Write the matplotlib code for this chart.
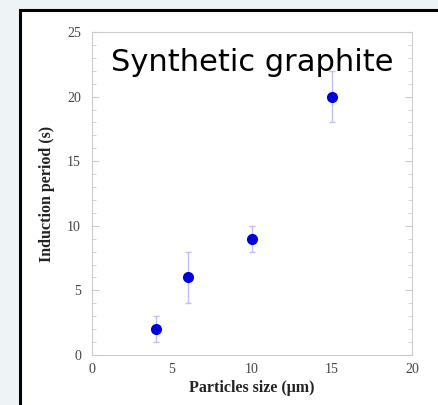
import matplotlib.pyplot as plt
from matplotlib.patches import Rectangle
from matplotlib.ticker import MultipleLocator

# particle size (um), induction period (s), error bar ends
size = [4, 6, 10, 15]
period = [2, 6, 9, 20]
err_low = [1, 2, 1, 2]
err_high = [1, 2, 1, 2]

fig = plt.figure(figsize=(4.39, 4.05), dpi=100)
fig.patch.set_facecolor('#eef4f6')

# white slide panel with black frame
panel = Rectangle((20/439, -0.1), 1.2, 1.1 - 10/405,
                  transform=fig.transFigure, facecolor='white',
                  edgecolor='black', linewidth=2.2, zorder=-5)
fig.patches.append(panel)

ax = fig.add_axes([92/439, 1-355/405, 320/439, 323/405])
ax.set_facecolor('white')
ax.errorbar(size, period, yerr=[err_low, err_high], fmt='o',
            color='#0000dd', ms=7, ecolor='#c0c0f4', elinewidth=1,
            capsize=2, capthick=1, zorder=3)

ax.set_xlim(0, 20)
ax.set_ylim(0, 25)
ax.set_xticks([0, 5, 10, 15, 20])
ax.set_yticks([0, 5, 10, 15, 20, 25])
ax.yaxis.set_minor_locator(MultipleLocator(1))
ax.tick_params(axis='x', length=0, pad=6, labelsize=10, colors='#444444')
ax.tick_params(axis='y', which='both', direction='in', right=True,
               labelsize=10, colors='#cccccc', labelcolor='#444444', pad=8)
ax.tick_params(axis='y', which='major', length=5)
ax.tick_params(axis='y', which='minor', length=3)
for lab in ax.get_xticklabels() + ax.get_yticklabels():
    lab.set_family('Liberation Serif')
for s in ax.spines.values():
    s.set_color('#cccccc')
    s.set_linewidth(0.8)

ax.set_xlabel('Particles size (\u03bcm)', family='Liberation Serif',
              fontweight='bold', fontsize=11.5, color='#222222', labelpad=3)
ax.set_ylabel('Induction period (s)', family='Liberation Serif',
              fontweight='bold', fontsize=11.5, color='#222222', labelpad=9)

ax.text(0.5, 0.905, 'Synthetic graphite', transform=ax.transAxes,
        ha='center', va='center', fontsize=22, color='black',
        family='DejaVu Sans')

fig.savefig('out.png', dpi=100, facecolor=fig.get_facecolor())
